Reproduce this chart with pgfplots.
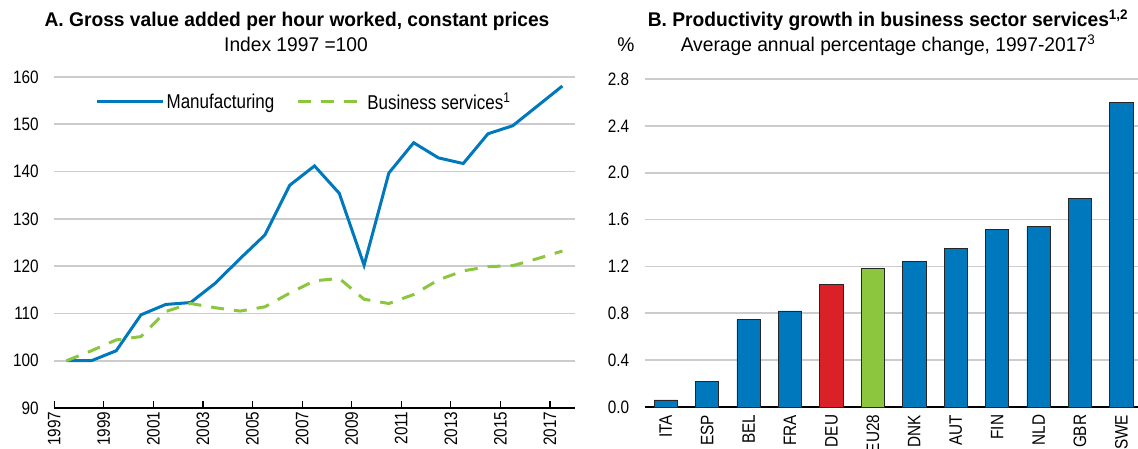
\documentclass[border=0pt]{standalone}
\usepackage{fontspec}
\setmainfont{Liberation Sans}[FakeStretch=0.85]
\newfontfamily\tfont{Liberation Sans}[FakeStretch=0.97]
\usepackage{pgfplots}
\pgfplotsset{compat=1.18}
\definecolor{oblue}{RGB}{0,120,190}
\definecolor{ogreen}{RGB}{140,198,63}
\definecolor{ored}{RGB}{218,33,40}
\definecolor{gridc}{RGB}{204,204,204}
\pgfplotsset{
  myaxis/.style={
    scale only axis, anchor=south west,
    /pgf/number format/assume math mode=true,
    tick label style={font=\fontsize{18}{20}\selectfont},
    ymajorgrids, grid style={gridc, line width=1.6pt},
    axis x line*=bottom, axis y line*=left,
    y axis line style={draw=none}, ytick style={draw=none},
    x axis line style={line width=1.2pt},
    yticklabel style={anchor=east, xshift=-12pt},
  }
}
\begin{document}
\begin{tikzpicture}
\useasboundingbox (0pt,0pt) rectangle (1138pt,448pt);
% Panel A
\begin{axis}[myaxis, at={(54.2pt,40pt)}, width=520.6pt, height=331pt,
  xmin=-0.5, xmax=20.5, ymin=90, ymax=160,
  ytick={90,100,110,120,130,140,150,160},
  xtick={-0.5,1.5,3.5,5.5,7.5,9.5,11.5,13.5,15.5,17.5,19.5},
  xticklabels={1997,1999,2001,2003,2005,2007,2009,2011,2013,2015,2017},
  xticklabel style={rotate=90, anchor=east},
  tick align=inside, major tick length=7pt,
  xtick style={black, line width=1.2pt},
  legend style={at={(0.48,0.925)}, anchor=center, draw=none, fill=none,
    font=\fontsize{20}{22}\selectfont, legend columns=2,
    /tikz/every even column/.append style={column sep=20pt}},
  legend image code/.code={\draw[#1] (0pt,0pt) -- (66pt,0pt);},
]
\addplot[oblue, line width=3pt] coordinates {
(0,100) (1,100) (2,102.1) (3,109.7) (4,111.9) (5,112.3) (6,116.4) (7,121.6)
(8,126.6) (9,137.1) (10,141.2) (11,135.4) (12,120.2) (13,139.7) (14,146.1)
(15,142.9) (16,141.7) (17,148.0) (18,149.7) (19,153.9) (20,158.1)};
\addlegendentry{Manufacturing}
\addplot[ogreen, line width=3pt, dash pattern=on 13pt off 10pt] coordinates {
(0,100) (1,102.1) (2,104.4) (3,105.1) (4,110.4) (5,112.1) (6,111.2) (7,110.5)
(8,111.4) (9,114.3) (10,116.9) (11,117.4) (12,113.0) (13,112.1) (14,114.0)
(15,117.1) (16,119.0) (17,119.9) (18,120.1) (19,121.6) (20,123.2)};
\addlegendentry{Business services\textsuperscript{1}}
\end{axis}
% Panel B
\begin{axis}[myaxis, at={(644.6pt,41pt)}, width=493.4pt, height=328pt,
  xmin=-0.51, xmax=11.4, ymin=0, ymax=2.8,
  ytick={0,0.4,0.8,1.2,1.6,2.0,2.4,2.8},
  yticklabel style={/pgf/number format/.cd, fixed, fixed zerofill, precision=1},
  xtick={0,1,2,3,4,5,6,7,8,9,10,11},
  xticklabels={ITA,ESP,BEL,FRA,DEU,EU28,DNK,AUT,FIN,NLD,GBR,SWE},
  xticklabel style={rotate=90, anchor=east},
  xtick style={draw=none},
  ybar, bar width=23.3pt, bar shift=0pt,
]
\addplot[fill=oblue, draw=black!85, line width=0.8pt] coordinates {
(0,0.06) (1,0.22) (2,0.745) (3,0.82) (6,1.24) (7,1.35) (8,1.515) (9,1.54) (10,1.78) (11,2.60)};
\addplot[fill=ored, draw=black!85, line width=0.8pt] coordinates {(4,1.045)};
\addplot[fill=ogreen, draw=black!85, line width=0.8pt] coordinates {(5,1.185)};
\end{axis}
% Titles
\node[anchor=base, inner sep=0pt, font=\tfont\bfseries\fontsize{19.8}{22}\selectfont] at (297pt,421pt) {A. Gross value added per hour worked, constant prices};
\node[anchor=base, inner sep=0pt, font=\tfont\fontsize{19.8}{22}\selectfont] at (296pt,396pt) {Index 1997 =100};
\node[anchor=base, inner sep=0pt, font=\tfont\bfseries\fontsize{19.8}{22}\selectfont] at (888pt,421pt) {B. Productivity growth in business sector services\textsuperscript{1,2}};
\node[anchor=base, inner sep=0pt, font=\tfont\fontsize{19.8}{22}\selectfont] at (888pt,396pt) {Average annual percentage change, 1997-2017\textsuperscript{3}};
\node[anchor=base, inner sep=0pt, font=\tfont\fontsize{19.8}{22}\selectfont] at (626pt,396pt) {\%};
\end{tikzpicture}
\end{document}
